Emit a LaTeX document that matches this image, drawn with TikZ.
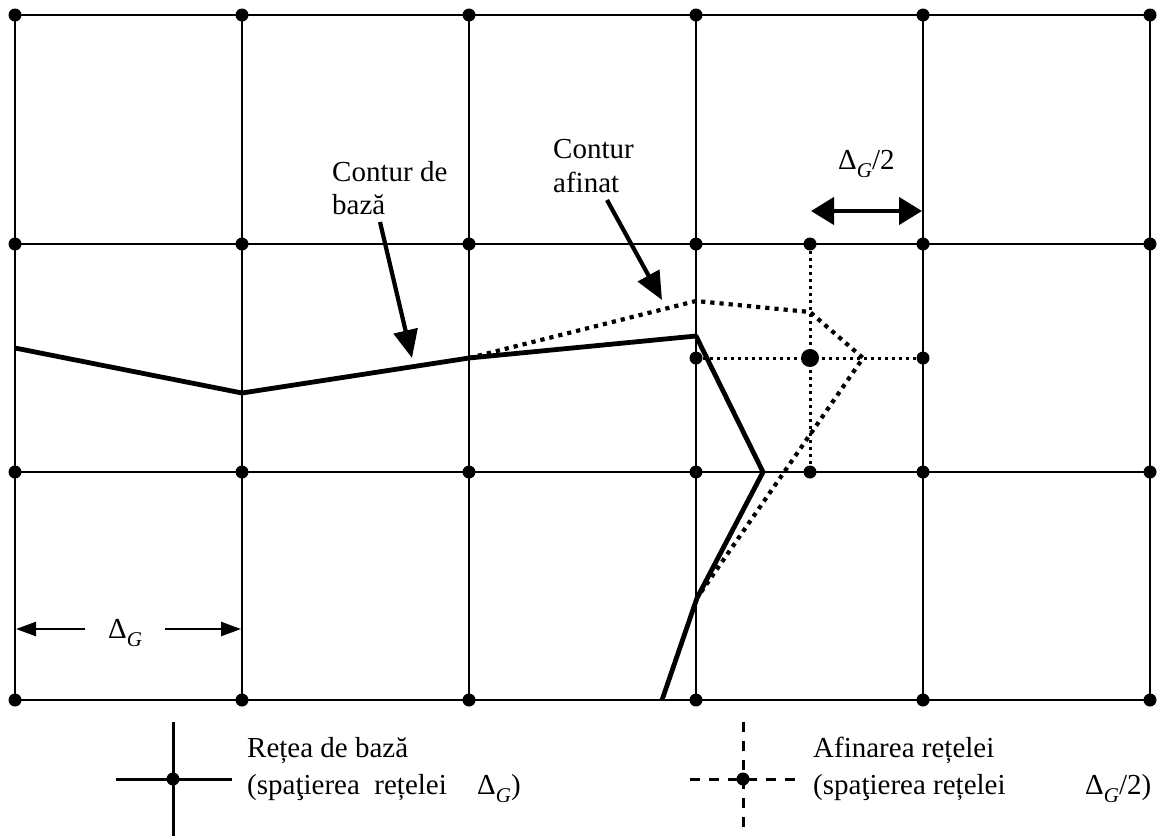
\documentclass[tikz,border=0pt]{standalone}
\usepackage{fontspec}
\setmainfont{Liberation Serif}
\usetikzlibrary{arrows.meta}
\newcommand\DGsym{Δ\raisebox{-0.28em}{\fontsize{21}{21}\selectfont\itshape G}}
\begin{document}
\begin{tikzpicture}[x=1pt,y=-1pt,line join=round,
  gridline/.style={line width=2.8pt},
  gdot/.style={circle,fill,inner sep=0pt,minimum size=13pt},
  bigdot/.style={circle,fill,inner sep=0pt,minimum size=18pt},
  fineline/.style={line width=3pt,dash pattern=on 3pt off 4pt},
  basecont/.style={line width=4.8pt},
  finecont/.style={line width=4.2pt,dash pattern=on 4.2pt off 5pt},
  bigarrow/.style={line width=4.2pt,-{Triangle[length=28pt,width=24pt]}},
  dblarrow/.style={line width=4.2pt,{Triangle[length=23pt,width=27pt]}-{Triangle[length=23pt,width=27pt]}},
  thinarrow/.style={line width=2.5pt,-{Triangle[length=20pt,width=14pt]}},
  lbl/.style={anchor=base west,inner sep=0pt,font=\fontsize{29}{34}\selectfont},
  legline/.style={line width=3pt},
  legdash/.style={line width=3pt,dash pattern=on 10pt off 9pt}]
\useasboundingbox (0,0) rectangle (1158,836);
% base grid coordinates
\foreach \i/\x in {0/15,1/242,2/469,3/696,4/923,5/1150}
  \foreach \j/\y in {0/15,1/244,2/472,3/700}
    \coordinate (c\i\j) at (\x,\y);
\foreach \j in {0,...,3} \draw[gridline] (c0\j) -- (c5\j);
\foreach \i in {0,...,5} \draw[gridline] (c\i0) -- (c\i3);
% refined grid
\coordinate (ft) at (810,244);
\coordinate (fb) at (810,472);
\coordinate (fl) at (696,358);
\coordinate (fr) at (923,358);
\coordinate (fc) at (810,358);
\draw[fineline] (ft) -- (fb);
\draw[fineline] (fl) -- (fr);
% contours
\coordinate (b1) at (15,348);
\coordinate (b2) at (242,393);
\coordinate (b3) at (469,358);
\coordinate (b4) at (696,336);
\coordinate (b5) at (763,472);
\coordinate (b6) at (697,598);
\coordinate (b7) at (662,700);
\coordinate (r1) at (696,301);
\coordinate (r2) at (810,312);
\coordinate (r3) at (863,358);
\draw[finecont] (b3) -- (r1) -- (r2) -- (r3) -- (b6);
\draw[basecont] (b1) -- (b2) -- (b3) -- (b4) -- (b5) -- (b6) -- (b7);
% dots
\foreach \i in {0,...,5}
  \foreach \j in {0,...,3}
    \node[gdot] (d\i\j) at (c\i\j) {};
\node[gdot] (dft) at (ft) {};
\node[gdot] (dfb) at (fb) {};
\node[gdot] (dfl) at (fl) {};
\node[gdot] (dfr) at (fr) {};
\node[bigdot] (dfc) at (fc) {};
% labels and arrows
\node[lbl] (cb1) at (332,181) {Contur de};
\node[lbl] (cb2) at (332,214) {bază};
\coordinate (a1s) at (380,222);
\coordinate (a1e) at (412,358);
\draw[bigarrow] (a1s) -- (a1e);
\node[lbl] (ca1) at (553,158) {Contur};
\node[lbl] (ca2) at (553,192) {afinat};
\coordinate (a2s) at (607,200);
\coordinate (a2e) at (662,300);
\draw[bigarrow] (a2s) -- (a2e);
\node[lbl] (dg2) at (838,169) {\DGsym/2};
\coordinate (h1) at (811,211);
\coordinate (h2) at (922,211);
\draw[dblarrow] (h1) -- (h2);
% Delta_G dimension
\node[lbl] (dg) at (108,638) {\DGsym};
\coordinate (l1) at (85,629);
\coordinate (l2) at (16,629);
\coordinate (r1a) at (165,629);
\coordinate (r2a) at (241,629);
\draw[thinarrow] (l1) -- (l2);
\draw[thinarrow] (r1a) -- (r2a);
% legend
\coordinate (lv1) at (173,722);
\coordinate (lv2) at (173,836);
\coordinate (lh1) at (116,779);
\coordinate (lh2) at (232,779);
\draw[legline] (lv1) -- (lv2);
\draw[legline] (lh1) -- (lh2);
\node[gdot] (lc) at (173,779) {};
\node[lbl] (t1) at (247,757) {Rețea de bază};
\node[lbl] (t2) at (247,794) {(spaţierea\ \ rețelei};
\node[lbl] (t3) at (477,794) {\DGsym)};
\coordinate (rv1) at (743,722);
\coordinate (rv2) at (743,836);
\coordinate (rh1) at (690,779);
\coordinate (rh2) at (797,779);
\draw[legdash] (rv1) -- (rv2);
\draw[legdash] (rh1) -- (rh2);
\node[gdot] (rc) at (743,779) {};
\node[lbl] (u1) at (813,757) {Afinarea rețelei};
\node[lbl] (u2) at (813,794) {(spaţierea rețelei};
\node[lbl] (u3) at (1085,794) {\DGsym/2)};
\end{tikzpicture}
\end{document}
